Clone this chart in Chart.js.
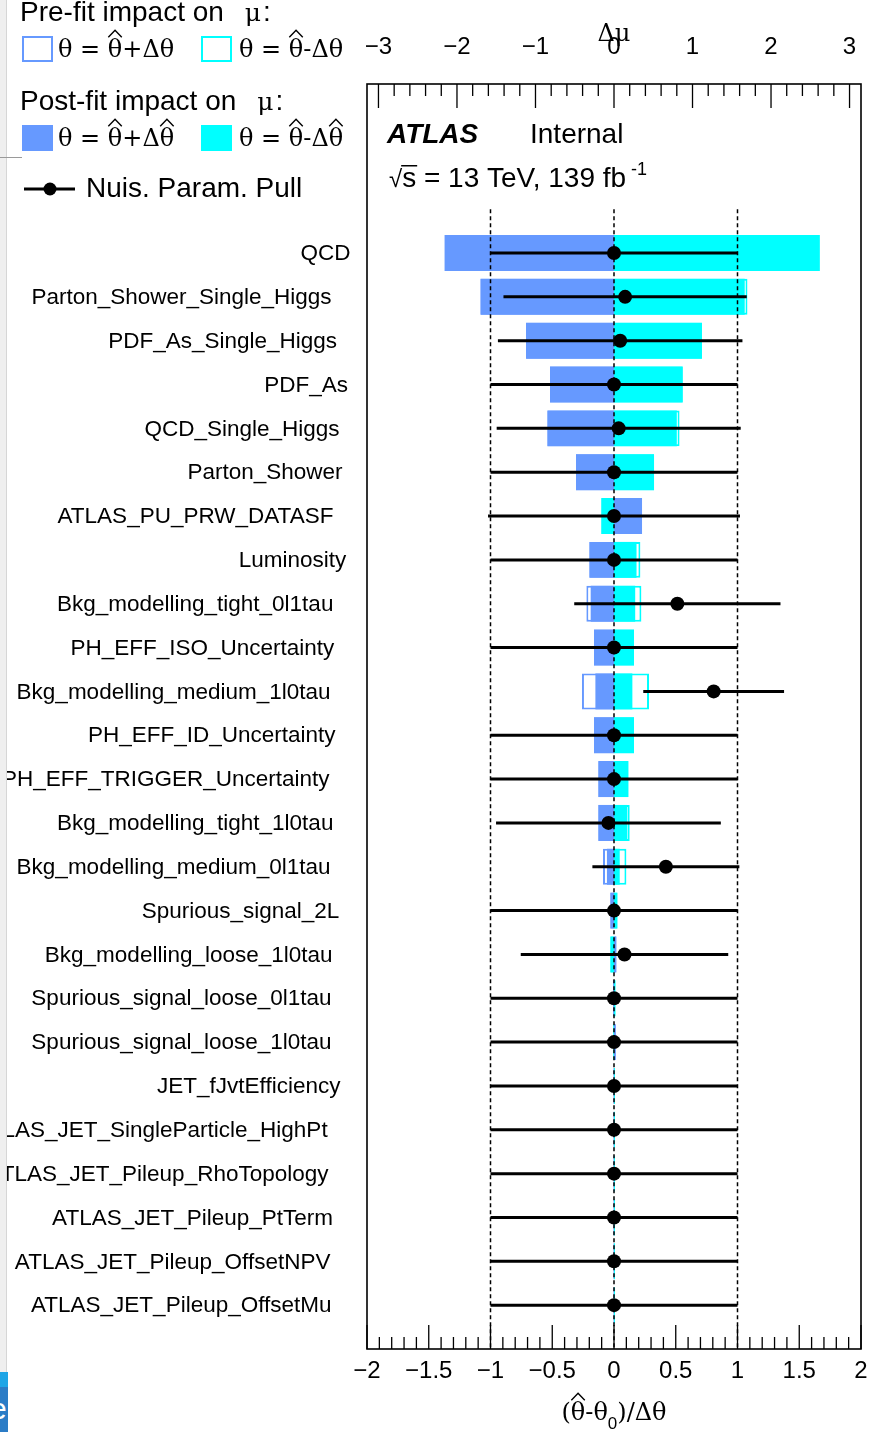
<!DOCTYPE html>
<html>
<head>
<meta charset="utf-8">
<script src="https://cdn.jsdelivr.net/npm/chart.js@4.4.1/dist/chart.umd.min.js"></script>
<style>
  html, body { margin: 0; padding: 0; background: #fff; }
  #wrap { position: relative; width: 871px; height: 1432px; overflow: hidden; }
  canvas { display: block; }
  .edge { position: absolute; left: 0; top: 0; width: 6px; height: 1372px; background: #efefef; border-right: 1px solid #d6d6d6; }
  .rule { position: absolute; left: 0; top: 157px; width: 22px; height: 1px; background: #9a9a9a; }
  .dock { position: absolute; left: 0; top: 1372px; width: 8px; height: 60px; background: #2b7cc6; overflow: hidden; }
  .dock .hi { height: 15px; background: #1ea5e6; }
  .dock span { position: absolute; left: -10px; top: 20px; font: 30px "Liberation Sans", sans-serif; color: #fff; }
</style>
</head>
<body>
<div id="wrap">
  <canvas id="c" width="871" height="1432"></canvas>
  <div class="edge"></div>
  <div class="rule"></div>
  <div class="dock"><div class="hi"></div><span>e</span></div>
</div>
<script>
// Nuisance parameters, ranked by post-fit impact on mu
const nuisanceParams = [
  'QCD', 'Parton_Shower_Single_Higgs', 'PDF_As_Single_Higgs', 'PDF_As',
  'QCD_Single_Higgs', 'Parton_Shower', 'ATLAS_PU_PRW_DATASF', 'Luminosity',
  'Bkg_modelling_tight_0l1tau', 'PH_EFF_ISO_Uncertainty', 'Bkg_modelling_medium_1l0tau',
  'PH_EFF_ID_Uncertainty', 'PH_EFF_TRIGGER_Uncertainty', 'Bkg_modelling_tight_1l0tau',
  'Bkg_modelling_medium_0l1tau', 'Spurious_signal_2L', 'Bkg_modelling_loose_1l0tau',
  'Spurious_signal_loose_0l1tau', 'Spurious_signal_loose_1l0tau', 'JET_fJvtEfficiency',
  'ATLAS_JET_SingleParticle_HighPt', 'ATLAS_JET_Pileup_RhoTopology', 'ATLAS_JET_Pileup_PtTerm',
  'ATLAS_JET_Pileup_OffsetNPV', 'ATLAS_JET_Pileup_OffsetMu'
];

// Delta mu for theta = theta_hat + / - Delta theta (pre-fit)
const prefitPlus  = [-2.157, -1.70, -1.12, -0.815, -0.848, -0.484, 0.357, -0.313, -0.352, -0.255, -0.408, -0.255, -0.199,
                     -0.199, -0.14, -0.046, 0.03, -0.01, 0.022, -0.005, -0.005, -0.005, -0.005, -0.005, -0.005];
const prefitMinus = [2.62, 1.70, 1.12, 0.875, 0.835, 0.51, -0.161, 0.336, 0.349, 0.255, 0.446, 0.255, 0.183,
                     0.20, 0.158, 0.043, -0.046, 0.018, -0.008, 0.01, 0.01, 0.01, 0.01, 0.01, 0.01];

// Delta mu for theta = theta_hat + / - Delta theta_hat (post-fit)
const postfitPlus  = [-2.157, -1.70, -1.12, -0.815, -0.848, -0.484, 0.357, -0.313, -0.297, -0.255, -0.237, -0.255, -0.199,
                      -0.199, -0.09, -0.046, 0.03, -0.01, 0.022, -0.005, -0.005, -0.005, -0.005, -0.005, -0.005];
const postfitMinus = [2.62, 1.665, 1.12, 0.875, 0.80, 0.51, -0.161, 0.287, 0.27, 0.255, 0.234, 0.255, 0.183,
                      0.17, 0.073, 0.043, -0.046, 0.018, -0.008, 0.01, 0.01, 0.01, 0.01, 0.01, 0.01];

// Pulls (theta_hat - theta_0)/Delta theta and their post-fit errors
const pullCenter = [0, 0.09, 0.05, 0, 0.038, 0, 0, 0, 0.513, 0, 0.807, 0, 0,
                    -0.045, 0.42, 0, 0.085, 0, 0, 0, 0, 0, 0, 0, 0];
const pullError  = [1, 0.985, 0.99, 1, 0.988, 1, 1.02, 1, 0.835, 1, 0.57, 1, 1,
                    0.91, 0.595, 1, 0.84, 1, 1, 1, 1, 1, 1, 1, 1];

const pullAxisTicks   = [-2, -1.5, -1, -0.5, 0, 0.5, 1, 1.5, 2];
const impactAxisTicks = [-3, -2, -1, 0, 1, 2, 3];
const guideLines = [-1, 0, 1];

const SANS  = '"Liberation Sans", Arial, Helvetica, sans-serif';
const SERIF = '"DejaVu Serif", "Liberation Serif", serif';
const BLUE = '#6699ff';
const CYAN = '#00ffff';

const signed = v => (v < 0 ? '\u2212' : '') + Math.abs(v);

const barData = vals => vals.map((v, i) => ({ y: i, x: [0, v] }));

const pullSegments = [];
pullCenter.forEach((c, i) => {
  pullSegments.push({ x: c - pullError[i], y: i }, { x: c + pullError[i], y: i }, { x: null, y: null });
});

const guideSegments = [];
guideLines.forEach(g => {
  guideSegments.push({ x: g, y: -1 }, { x: g, y: nuisanceParams.length }, { x: null, y: null });
});

// writes a run of text pieces {t, f, size, gap, dy, hat}; returns the end x
function run(ctx, x, y, pieces, measureOnly) {
  for (const p of pieces) {
    ctx.font = p.f;
    x += p.gap || 0;
    const w = ctx.measureText(p.t).width;
    if (!measureOnly) {
      ctx.fillText(p.t, x, y + (p.dy || 0));
      if (p.hat) {
        const top = y - 0.74 * p.size;
        ctx.save();
        ctx.lineWidth = 1.4;
        ctx.strokeStyle = ctx.fillStyle;
        ctx.beginPath();
        ctx.moveTo(x + 0.5, top - 2);
        ctx.lineTo(x + w / 2, top - 9);
        ctx.lineTo(x + w - 0.5, top - 2);
        ctx.stroke();
        ctx.restore();
      }
    }
    x += w;
  }
  return x;
}

// subdivide major ticks into five minor intervals
function tickMarks(majors) {
  const out = [];
  majors.forEach((m, k) => {
    out.push([m, true]);
    if (k < majors.length - 1) {
      const step = (majors[k + 1] - m) / 5;
      for (let j = 1; j < 5; j++) out.push([m + j * step, false]);
    }
  });
  return out;
}

const sym = (t, extra) => Object.assign({ t, f: '24px ' + SERIF, size: 24 }, extra || {});

// keep the plotting frame fixed: no extra room reserved for end labels
const fixHorizontal = h => s => { s.height = h; s.paddingLeft = 0; s.paddingRight = 0; };

const rootFrame = {
  id: 'rootFrame',
  afterDraw(chart) {
    const { ctx, chartArea: a, scales } = chart;
    const xs = scales.x, xt = scales.xTop, ys = scales.y;
    ctx.save();

    // inward tick marks on the bottom (pull) and top (impact) axes
    ctx.strokeStyle = '#000';
    ctx.lineWidth = 1.3;
    ctx.beginPath();
    tickMarks(pullAxisTicks).forEach(([v, major]) => {
      const px = xs.getPixelForValue(v);
      ctx.moveTo(px, a.bottom);
      ctx.lineTo(px, a.bottom - (major ? 24 : 12));
    });
    tickMarks(impactAxisTicks).forEach(([v, major]) => {
      const px = xt.getPixelForValue(v);
      ctx.moveTo(px, a.top);
      ctx.lineTo(px, a.top + (major ? 24 : 12));
    });
    ctx.stroke();

    // frame
    ctx.lineWidth = 1.6;
    ctx.strokeRect(a.left, a.top, a.right - a.left, a.bottom - a.top);

    // parameter names
    ctx.fillStyle = '#000';
    ctx.textBaseline = 'middle';
    ctx.textAlign = 'left';
    ctx.font = '22.5px ' + SANS;
    const anchor = a.left - 12.6;
    nuisanceParams.forEach((name, i) => {
      const w = ctx.measureText(name).width;
      ctx.fillText(name, anchor - 1.076 * w, ys.getPixelForValue(i) + 1);
    });

    ctx.textBaseline = 'alphabetic';

    // pull axis title
    const xTitle = [
      sym('('), sym('\u03b8', { hat: true }), sym('-\u03b8'),
      { t: '0', f: '17px ' + SANS, size: 17, dy: 9 }, sym(')/\u0394\u03b8')
    ];
    const tw = run(ctx, 0, 0, xTitle, true);
    run(ctx, (xs.left + xs.right) / 2 - tw / 2, 1420, xTitle);

    // legend
    const head = '28px ' + SANS;
    const greek = '25px ' + SERIF;
    let end = run(ctx, 20, 21, [{ t: 'Pre-fit impact on', f: head }]);
    run(ctx, end, 21, [{ t: '\u03bc', f: greek, gap: 21 }, { t: ':', f: head, gap: 2 }]);
    end = run(ctx, 20, 110, [{ t: 'Post-fit impact on', f: head }]);
    run(ctx, end, 110, [{ t: '\u03bc', f: greek, gap: 21 }, { t: ':', f: head, gap: 2 }]);

    ctx.lineWidth = 2;
    ctx.strokeStyle = BLUE;
    ctx.strokeRect(23, 37, 29, 24);
    ctx.strokeStyle = CYAN;
    ctx.strokeRect(202, 37, 29, 24);
    ctx.fillStyle = BLUE;
    ctx.fillRect(22, 125, 31, 26);
    ctx.fillStyle = CYAN;
    ctx.fillRect(201, 125, 31, 26);

    ctx.fillStyle = '#000';
    run(ctx, 58, 57, [sym('\u03b8 = '), sym('\u03b8', { hat: true }), sym('+\u0394\u03b8')]);
    run(ctx, 239, 57, [sym('\u03b8 = '), sym('\u03b8', { hat: true }), sym('-\u0394\u03b8')]);
    run(ctx, 58, 146, [sym('\u03b8 = '), sym('\u03b8', { hat: true }), sym('+\u0394'), sym('\u03b8', { hat: true })]);
    run(ctx, 239, 146, [sym('\u03b8 = '), sym('\u03b8', { hat: true }), sym('-\u0394'), sym('\u03b8', { hat: true })]);

    ctx.strokeStyle = '#000';
    ctx.lineWidth = 3;
    ctx.beginPath();
    ctx.moveTo(24, 189);
    ctx.lineTo(75, 189);
    ctx.stroke();
    ctx.beginPath();
    ctx.arc(50, 189, 6.5, 0, Math.PI * 2);
    ctx.fill();
    run(ctx, 86, 197, [{ t: 'Nuis. Param. Pull', f: head }]);

    // experiment label
    run(ctx, 387, 143, [{ t: 'ATLAS', f: 'italic bold 28px ' + SANS }]);
    run(ctx, 530, 143, [{ t: 'Internal', f: '28px ' + SANS }]);
    const rootEnd = run(ctx, 389, 187, [{ t: '\u221a', f: '24px ' + SANS }]);
    ctx.font = '28px ' + SANS;
    const sw = ctx.measureText('s').width;
    ctx.fillRect(rootEnd - 1, 165, sw + 2, 1.5);
    const txtEnd = run(ctx, rootEnd, 187, [{ t: 's = 13 TeV, 139 fb', f: '28px ' + SANS }]);
    run(ctx, txtEnd + 5, 175, [{ t: '-1', f: '18px ' + SANS }]);

    ctx.restore();
  }
};

new Chart(document.getElementById('c'), {
  type: 'bar',
  data: {
    datasets: [
      {
        label: 'Pre-fit +',
        data: barData(prefitPlus),
        indexAxis: 'y', xAxisID: 'xTop', yAxisID: 'y',
        backgroundColor: '#ffffff', borderColor: BLUE, borderWidth: 2, borderSkipped: false,
        grouped: false, barPercentage: 0.82, categoryPercentage: 1, order: 9
      },
      {
        label: 'Pre-fit -',
        data: barData(prefitMinus),
        indexAxis: 'y', xAxisID: 'xTop', yAxisID: 'y',
        backgroundColor: '#ffffff', borderColor: CYAN, borderWidth: 2, borderSkipped: false,
        grouped: false, barPercentage: 0.82, categoryPercentage: 1, order: 8
      },
      {
        label: 'Post-fit +',
        data: barData(postfitPlus),
        indexAxis: 'y', xAxisID: 'xTop', yAxisID: 'y',
        backgroundColor: BLUE, borderWidth: 0,
        grouped: false, barPercentage: 0.82, categoryPercentage: 1, order: 7
      },
      {
        label: 'Post-fit -',
        data: barData(postfitMinus),
        indexAxis: 'y', xAxisID: 'xTop', yAxisID: 'y',
        backgroundColor: CYAN, borderWidth: 0,
        grouped: false, barPercentage: 0.82, categoryPercentage: 1, order: 6
      },
      {
        type: 'line',
        label: 'guides',
        data: guideSegments,
        xAxisID: 'x', yAxisID: 'y',
        borderColor: '#000', borderWidth: 1.5, borderDash: [4, 3],
        pointRadius: 0, spanGaps: false, tension: 0, fill: false, order: 3
      },
      {
        type: 'line',
        label: 'pull errors',
        data: pullSegments,
        xAxisID: 'x', yAxisID: 'y',
        borderColor: '#000', borderWidth: 3, borderCapStyle: 'butt',
        pointRadius: 0, spanGaps: false, tension: 0, fill: false, order: 2
      },
      {
        type: 'scatter',
        label: 'Nuis. Param. Pull',
        data: pullCenter.map((c, i) => ({ x: c, y: i })),
        xAxisID: 'x', yAxisID: 'y',
        pointRadius: 7, pointStyle: 'circle', backgroundColor: '#000', borderWidth: 0, order: 1
      }
    ]
  },
  options: {
    responsive: false,
    devicePixelRatio: 1,
    animation: false,
    events: [],
    layout: { padding: { left: 0, right: 10, top: 0, bottom: 0 } },
    plugins: { legend: { display: false }, tooltip: { enabled: false } },
    scales: {
      x: {
        type: 'linear', axis: 'x', position: 'bottom', min: -2, max: 2, offset: false,
        grid: { display: false, drawTicks: false }, border: { display: false },
        afterBuildTicks: s => { s.ticks = pullAxisTicks.map(v => ({ value: v })); },
        afterFit: fixHorizontal(83),
        ticks: {
          autoSkip: false, maxRotation: 0, padding: 8, color: '#000',
          font: { family: SANS, size: 24 }, callback: v => signed(v)
        }
      },
      xTop: {
        type: 'linear', axis: 'x', position: 'top', min: -3.146, max: 3.146, offset: false,
        grid: { display: false, drawTicks: false }, border: { display: false },
        afterBuildTicks: s => { s.ticks = impactAxisTicks.map(v => ({ value: v })); },
        afterFit: fixHorizontal(84),
        ticks: {
          autoSkip: false, maxRotation: 0, padding: 22, color: '#000',
          font: { family: SANS, size: 24 }, callback: v => signed(v)
        },
        title: {
          display: true, text: '\u0394\u03bc', color: '#000',
          font: { family: SERIF, size: 24 }, padding: { top: 20, bottom: 0 }
        }
      },
      y: {
        type: 'linear', position: 'left', reverse: true, min: -3.855, max: nuisanceParams.length, offset: false,
        grid: { display: false, drawTicks: false }, border: { display: false },
        ticks: { display: false },
        afterBuildTicks: s => { s.ticks = nuisanceParams.map((_, i) => ({ value: i })); },
        afterFit: s => { s.width = 367; }
      }
    }
  },
  plugins: [rootFrame]
});
</script>
</body>
</html>
